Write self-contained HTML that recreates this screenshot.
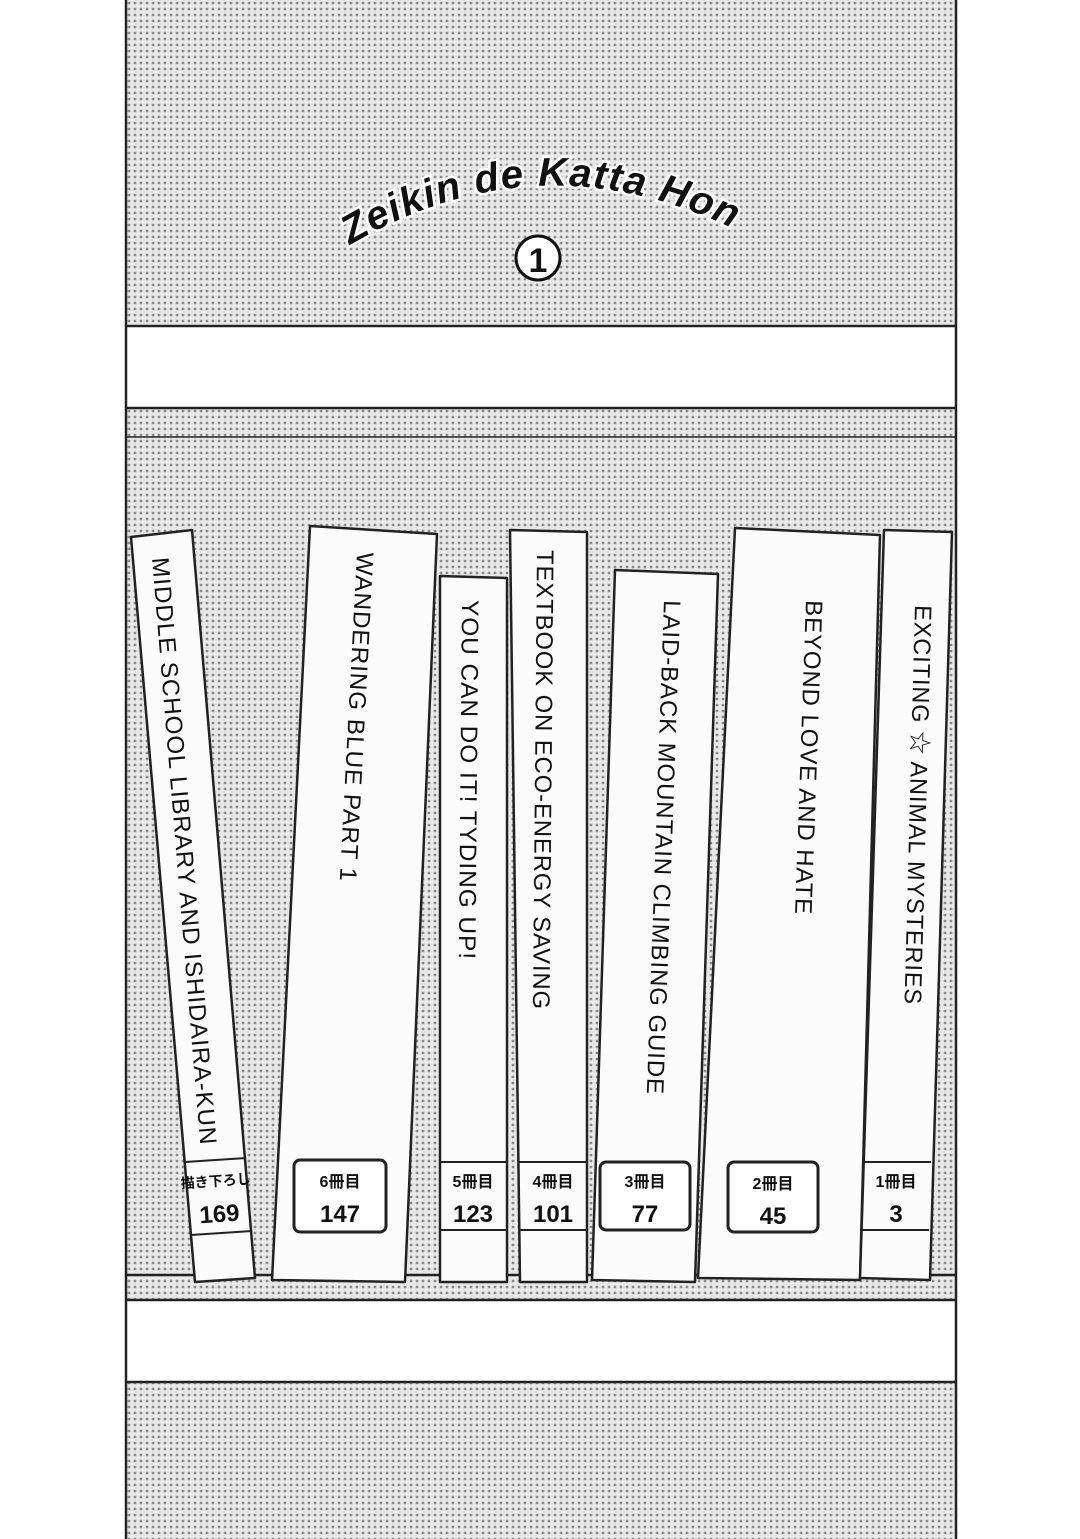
<!DOCTYPE html>
<html><head><meta charset="utf-8"><style>
html,body{margin:0;padding:0;background:#fff;}
svg{display:block}
text{font-family:"Liberation Sans","Noto Sans CJK JP",sans-serif;}
</style></head><body>
<svg width="1080" height="1539" viewBox="0 0 1080 1539" xmlns="http://www.w3.org/2000/svg">
<defs>
<pattern id="dots" width="6" height="6" patternUnits="userSpaceOnUse">
<rect width="6" height="6" fill="#e8e8e8"/>
<circle cx="3" cy="3" r="1.4" fill="#8a8a8a"/>
</pattern>
<path id="arc" d="M350,245 Q545,130 752,238"/>
</defs>
<rect width="1080" height="1539" fill="#fff"/>
<rect x="126" y="0" width="830" height="326" fill="url(#dots)"/>
<rect x="126" y="408" width="830" height="29" fill="url(#dots)"/>
<rect x="126" y="437" width="830" height="838" fill="url(#dots)"/>
<rect x="126" y="1275" width="830" height="25" fill="url(#dots)"/>
<rect x="126" y="1382" width="830" height="157" fill="url(#dots)"/>
<g stroke="#222" stroke-width="2.5" fill="none">
<line x1="126" y1="0" x2="126" y2="1539"/>
<line x1="956" y1="0" x2="956" y2="1539"/>
<line x1="126" y1="326" x2="956" y2="326"/>
<line x1="126" y1="408" x2="956" y2="408"/>
<line x1="126" y1="437" x2="956" y2="437" stroke-width="1.5"/>
<line x1="126" y1="1275" x2="956" y2="1275"/>
<line x1="126" y1="1300" x2="956" y2="1300"/>
<line x1="126" y1="1382" x2="956" y2="1382"/>
</g>
<text font-size="40" font-style="italic" font-weight="bold" fill="#111" stroke="#fff" stroke-width="5" paint-order="stroke" font-family="Liberation Serif,serif"><textPath href="#arc" textLength="400" lengthAdjust="spacing">Zeikin de Katta Hon</textPath></text>
<circle cx="538" cy="258" r="22" fill="#fff" stroke="#111" stroke-width="3"/>
<text x="538" y="272" font-size="34" font-weight="bold" text-anchor="middle" fill="#111">1</text>
<g stroke="#222" stroke-width="2.5" fill="#fbfbfb" stroke-linejoin="round">
<path d="M131,537 L192,530 L255,1278 L195,1282 Z"/>
<path d="M310,526 L437,534 L405,1282 L272,1280 Z"/>
<path d="M440,576 L507,578 L507,1282 L440,1282 Z"/>
<path d="M510,530 L587,532 L587,1282 L520,1282 Z"/>
<path d="M615,570 L718,574 L695,1282 L592,1280 Z"/>
<path d="M735,528 L880,535 L860,1280 L698,1278 Z"/>
<path d="M884,530 L952,532 L930,1280 L860,1278 Z"/>
</g>
<g stroke="#222" stroke-width="2">
<line x1="185" y1="1162" x2="246" y2="1158"/>
<line x1="191" y1="1235" x2="252" y2="1231"/>
<line x1="440" y1="1162" x2="507" y2="1162"/><line x1="440" y1="1230" x2="507" y2="1230"/>
<line x1="519" y1="1162" x2="587" y2="1162"/><line x1="519" y1="1230" x2="587" y2="1230"/>
<line x1="862" y1="1162" x2="931" y2="1162"/><line x1="860" y1="1230" x2="929" y2="1230"/>
</g>
<g fill="#fff" stroke="#222" stroke-width="3">
<rect x="294" y="1160" width="92" height="72" rx="6"/>
<rect x="600" y="1162" width="90" height="68" rx="6"/>
<rect x="728" y="1162" width="90" height="70" rx="6"/>
</g>
<g font-weight="bold" fill="#111" text-anchor="middle">
<text x="216" y="1186" font-size="14" transform="rotate(-4 216 1186)">描き下ろし</text>
<text x="220" y="1222" font-size="24" transform="rotate(-4 220 1222)">169</text>
<text x="340" y="1187" font-size="16">6冊目</text><text x="340" y="1222" font-size="24">147</text>
<text x="473" y="1187" font-size="16">5冊目</text><text x="473" y="1222" font-size="24">123</text>
<text x="553" y="1187" font-size="16">4冊目</text><text x="553" y="1222" font-size="24">101</text>
<text x="645" y="1187" font-size="16">3冊目</text><text x="645" y="1222" font-size="24">77</text>
<text x="773" y="1189" font-size="16">2冊目</text><text x="773" y="1224" font-size="24">45</text>
<text x="896" y="1187" font-size="16">1冊目</text><text x="896" y="1222" font-size="24">3</text>
</g>
<g font-size="24" fill="#111" letter-spacing="1">
<text transform="translate(152,558) rotate(85.3)" textLength="590" lengthAdjust="spacingAndGlyphs">MIDDLE SCHOOL LIBRARY AND ISHIDAIRA-KUN</text>
<text transform="translate(357,552) rotate(93)" textLength="330" lengthAdjust="spacingAndGlyphs">WANDERING BLUE PART 1</text>
<text transform="translate(462,600) rotate(90.5)" textLength="360" lengthAdjust="spacingAndGlyphs">YOU CAN DO IT! TYDING UP!</text>
<text transform="translate(537,550) rotate(90.5)" textLength="460" lengthAdjust="spacingAndGlyphs">TEXTBOOK ON ECO-ENERGY SAVING</text>
<text transform="translate(664,600) rotate(92)" textLength="495" lengthAdjust="spacingAndGlyphs">LAID-BACK MOUNTAIN CLIMBING GUIDE</text>
<text transform="translate(806,600) rotate(92)" textLength="315" lengthAdjust="spacingAndGlyphs">BEYOND LOVE AND HATE</text>
<text transform="translate(915,605) rotate(91.5)" textLength="400" lengthAdjust="spacingAndGlyphs">EXCITING ☆ ANIMAL MYSTERIES</text>
</g>
</svg>
</body></html>
